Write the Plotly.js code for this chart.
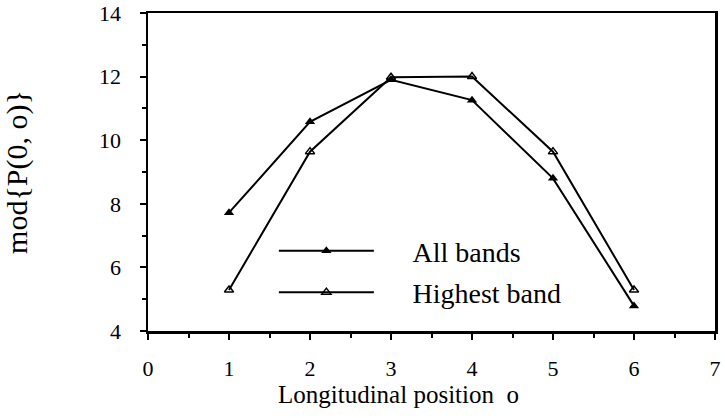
<!DOCTYPE html>
<html>
<head>
<meta charset="utf-8">
<script src="https://cdn.plot.ly/plotly-3.0.1.min.js"></script>
<style>html,body{margin:0;padding:0;background:#fff;}#chart{width:725px;height:418px;}</style>
</head>
<body>
<div id="chart"></div>
<script>
const positions = [1, 2, 3, 4, 5, 6];
const allBands = [7.72, 10.58, 11.9, 11.26, 8.8, 4.79];
const highestBand = [5.29, 9.64, 11.98, 12.0, 9.64, 5.29];
const seriesNames = ["All bands", "Highest band"];
const xTitle = "Longitudinal position  o";
const yTitle = "mod{P(0, o)}";

const font = "'Times New Roman', 'Liberation Serif', Times, serif";
const pad = "\u2003\u2009";

const traces = [
  {x: positions, y: allBands, name: pad + seriesNames[0], type: "scatter", mode: "lines+markers",
   legendgroup: "a",
   line: {color: "#000", width: 2},
   marker: {symbol: "triangle-up", size: 9, color: "#000"}},
  {x: positions, y: highestBand, name: pad + seriesNames[1], type: "scatter", mode: "lines+markers",
   legendgroup: "b",
   line: {color: "#000", width: 2},
   marker: {symbol: "triangle-up-open", size: 8, color: "#000", line: {width: 1.5, color: "#000"}}}
];

const layout = {
  width: 725, height: 418,
  margin: {l: 148, r: 10, t: 13, b: 87},
  paper_bgcolor: "#fff", plot_bgcolor: "#fff",
  font: {family: font, color: "#000", size: 22},
  showlegend: true,
  legend: {x: 0.222, y: 0.33, xanchor: "left", yanchor: "top", bgcolor: "rgba(0,0,0,0)",
           font: {family: font, size: 28, color: "#000"}, itemwidth: 95, tracegroupgap: 2},
  annotations: [
    {text: xTitle, xref: "paper", yref: "paper", x: 0.441, y: -0.2,
     xanchor: "center", yanchor: "middle", showarrow: false,
     font: {family: font, size: 25, color: "#000"}}
  ],
  xaxis: {range: [0, 7], dtick: 1, tick0: 0, showgrid: false, zeroline: false,
          showline: true, linecolor: "#000", linewidth: 2.5, mirror: true,
          ticks: "outside", ticklen: 6, tickwidth: 2, tickcolor: "#000",
          ticklabelstandoff: 10,
          minor: {dtick: 0.5, ticklen: 4, tickwidth: 2, tickcolor: "#000", ticks: "outside"},
          tickfont: {family: font, size: 22}},
  yaxis: {range: [4, 14], dtick: 2, tick0: 4, showgrid: false, zeroline: false,
          showline: true, linecolor: "#000", linewidth: 2.5, mirror: true,
          ticks: "outside", ticklen: 6, tickwidth: 2, tickcolor: "#000",
          ticklabelstandoff: 14,
          minor: {dtick: 1, ticklen: 4, tickwidth: 2, tickcolor: "#000", ticks: "outside"},
          tickfont: {family: font, size: 22},
          title: {text: yTitle, font: {family: font, size: 30}, standoff: 66}}
};

Plotly.newPlot("chart", traces, layout, {staticPlot: true, displayModeBar: false});
</script>
</body>
</html>
